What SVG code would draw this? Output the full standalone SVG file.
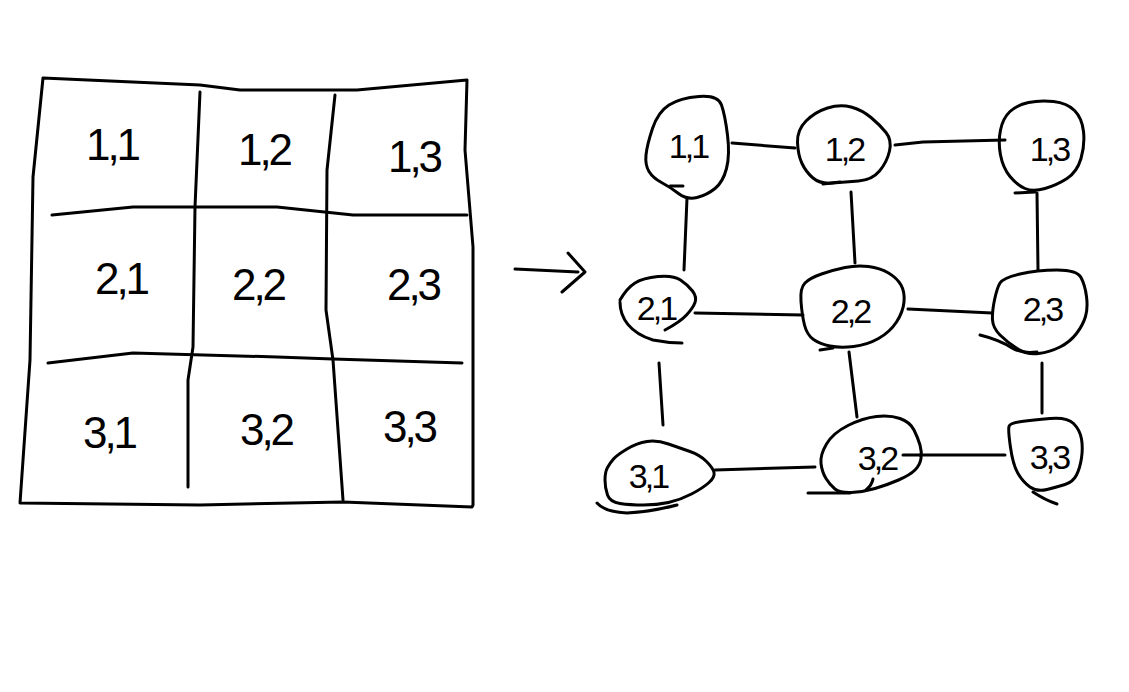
<svg xmlns="http://www.w3.org/2000/svg" width="1129" height="692" viewBox="0 0 1129 692">
<style>
.s{fill:none;stroke:#000;stroke-width:3;stroke-linecap:round;stroke-linejoin:round}
.g{font-family:"Liberation Sans",Arial,sans-serif;font-size:44px;letter-spacing:-3px;text-anchor:middle;fill:#000}
.n{font-family:"Liberation Sans",Arial,sans-serif;font-size:34px;letter-spacing:-3px;text-anchor:middle;fill:#000}
</style>
<rect width="1129" height="692" fill="#fff"/>
<g id="grid">
<path class="s" d="M43,78 L200,85 L240,90 L357,90 L467,80 L465,150 L473,247 L473,505 L472,507 L343,502 L200,505 L20,503 L30,360 L33,177 Z"/>
<path class="s" d="M52,215 L133,207 L277,207 L353,215 L467,215"/>
<path class="s" d="M48,363 L133,353 L277,357 L333,359 L462,363"/>
<path class="s" d="M200,92 L195,207 L193,347 L188,380 L188,487"/>
<path class="s" d="M335,95 L327,170 L326,310 L333,360 L343,500"/>
<text class="g" x="112" y="160">1,1</text>
<text class="g" x="264" y="165">1,2</text>
<text class="g" x="414" y="172">1,3</text>
<text class="g" x="121" y="294">2,1</text>
<text class="g" x="258" y="300">2,2</text>
<text class="g" x="413" y="300">2,3</text>
<text class="g" x="109" y="448">3,1</text>
<text class="g" x="266" y="445">3,2</text>
<text class="g" x="409" y="442">3,3</text>
</g>
<g id="arrow">
<path class="s" d="M515,269 L578,272"/>
<path class="s" d="M568,253 L585,272 L562,292"/>
</g>
<g id="connectors">
<path class="s" d="M732,143 L795,148"/>
<path class="s" d="M895,145 L923,142 L1005,140"/>
<path class="s" d="M687,198 L684,270"/>
<path class="s" d="M851,192 L855,263"/>
<path class="s" d="M1037,193 L1038,270"/>
<path class="s" d="M695,313 L803,315"/>
<path class="s" d="M908,309 L992,313"/>
<path class="s" d="M659,363 L663,425"/>
<path class="s" d="M849,352 L857,417"/>
<path class="s" d="M1042,363 L1042,413"/>
<path class="s" d="M715,470 L815,467"/>
<path class="s" d="M920,455 L1005,455"/>
</g>
<g id="n11">
<path class="s" d="M699,96.5 Q680,98 669,105 Q658,112 652.5,128.5 Q647,145 646,155 Q645,165 649,171.5 Q653,178 661.5,182.5 Q670,187 678.5,193.5 Q687,200 697,197.5 Q707,195 715,188.5 Q723,182 726.5,168.5 Q730,155 727.5,135 Q725,115 721.5,105 Q718,95 699,96.5 Z"/>
<path class="s" d="M670,186 L683,186"/>
<text class="n" x="688" y="158">1,1</text>
</g>
<g id="n12">
<path class="s" d="M806,121 Q815,112 827.5,108 Q840,104 851,107 Q862,110 871,117.5 Q880,125 886,132.5 Q892,140 889.5,151 Q887,162 879.5,171 Q872,180 858.5,181 Q845,182 832.5,183 Q820,184 813,178 Q806,172 802,163.5 Q798,155 797.5,142.5 Q797,130 806,121 Z"/>
<path class="s" d="M823,184 L840,182"/>
<text class="n" x="844" y="161">1,2</text>
</g>
<g id="n13">
<path class="s" d="M1010,111.5 Q1017,105 1028.5,102.5 Q1040,100 1053.5,101.5 Q1067,103 1074.5,110.5 Q1082,118 1083.5,131.5 Q1085,145 1081,158.5 Q1077,172 1067,178.5 Q1057,185 1045,188.5 Q1033,192 1025,188.5 Q1017,185 1010,176.5 Q1003,168 1000.5,155 Q998,142 1000.5,130 Q1003,118 1010,111.5 Z"/>
<path class="s" d="M1015,193 L1035,192"/>
<text class="n" x="1049" y="161">1,3</text>
</g>
<g id="n21">
<path class="s" d="M620,300 Q627,288 635,283 Q643,278 658,276.5 Q673,275 680.5,280 Q688,285 692.5,291 Q697,297 695,302.5 Q693,308 686.5,315 Q680,322 665,330"/>
<path class="s" d="M620,302 C620,318 630,333 653,340 Q668,343 682,343"/>
<text class="n" x="656" y="320">2,1</text>
</g>
<g id="n22">
<path class="s" d="M805,283 Q810,278 821.5,274 Q833,270 845,267.5 Q857,265 868.5,266.5 Q880,268 888.5,273 Q897,278 901,285 Q905,292 904,302 Q903,312 896.5,322 Q890,332 878.5,338.5 Q867,345 853.5,346.5 Q840,348 830,346 Q820,344 813.5,339.5 Q807,335 804.5,325 Q802,315 801,301.5 Q800,288 805,283 Z"/>
<path class="s" d="M820,350 L833,348"/>
<text class="n" x="850" y="323">2,2</text>
</g>
<g id="n23">
<path class="s" d="M994.5,300 Q997,288 1000,283 Q1003,278 1020,274 Q1037,270 1057,270 Q1077,270 1081,277.5 Q1085,285 1086.5,296.5 Q1088,308 1085.5,316.5 Q1083,325 1076.5,333.5 Q1070,342 1060,347 Q1050,352 1038.5,353.5 Q1027,355 1017,348.5 Q1007,342 1000,335 Q993,328 992.5,320 Q992,312 994.5,300 Z"/>
<path class="s" d="M980,335 Q1000,340 1012,348 Q1022,354 1037,352"/>
<text class="n" x="1042" y="321">2,3</text>
</g>
<g id="n31">
<path class="s" d="M613.5,459 Q617,455 627,449 Q637,443 647,441.5 Q657,440 668.5,444 Q680,448 690,451.5 Q700,455 706.5,461.5 Q713,468 714,472.5 Q715,477 709,482.5 Q703,488 691.5,494 Q680,500 668.5,502.5 Q657,505 643.5,505 Q630,505 620,503.5 Q610,502 607.5,495 Q605,488 605,480 Q605,472 607.5,467.5 Q610,463 613.5,459 Z"/>
<path class="s" d="M597,503 Q605,512 627,513 Q650,512 677,505"/>
<text class="n" x="648" y="488">3,1</text>
</g>
<g id="n32">
<path class="s" d="M848,425.5 Q863,418 876.5,416.5 Q890,415 900,418.5 Q910,422 914,430 Q918,438 920,445 Q922,452 921,458.5 Q920,465 915,470 Q910,475 898.5,480 Q887,485 875,488.5 Q863,492 851.5,492.5 Q840,493 835,489 Q830,485 826,478.5 Q822,472 821,463.5 Q820,455 826.5,444 Q833,433 848,425.5 Z"/>
<path class="s" d="M808,493 L850,493"/>
<path class="s" d="M873,479 Q872,485 866,490"/>
<path class="s" d="M903,455 L920,455"/>
<text class="n" x="877" y="470">3,2</text>
</g>
<g id="n33">
<path class="s" d="M1009,426.5 Q1010,423 1021.5,421.5 Q1033,420 1050,418.5 Q1067,417 1073.5,423.5 Q1080,430 1081.5,439 Q1083,448 1081.5,458 Q1080,468 1076.5,475 Q1073,482 1065,484.5 Q1057,487 1047,489.5 Q1037,492 1030,487 Q1023,482 1018,473.5 Q1013,465 1010.5,447.5 Q1008,430 1009,426.5 Z"/>
<path class="s" d="M1033,492 Q1045,500 1057,504"/>
<text class="n" x="1049" y="469">3,3</text>
</g>
</svg>
